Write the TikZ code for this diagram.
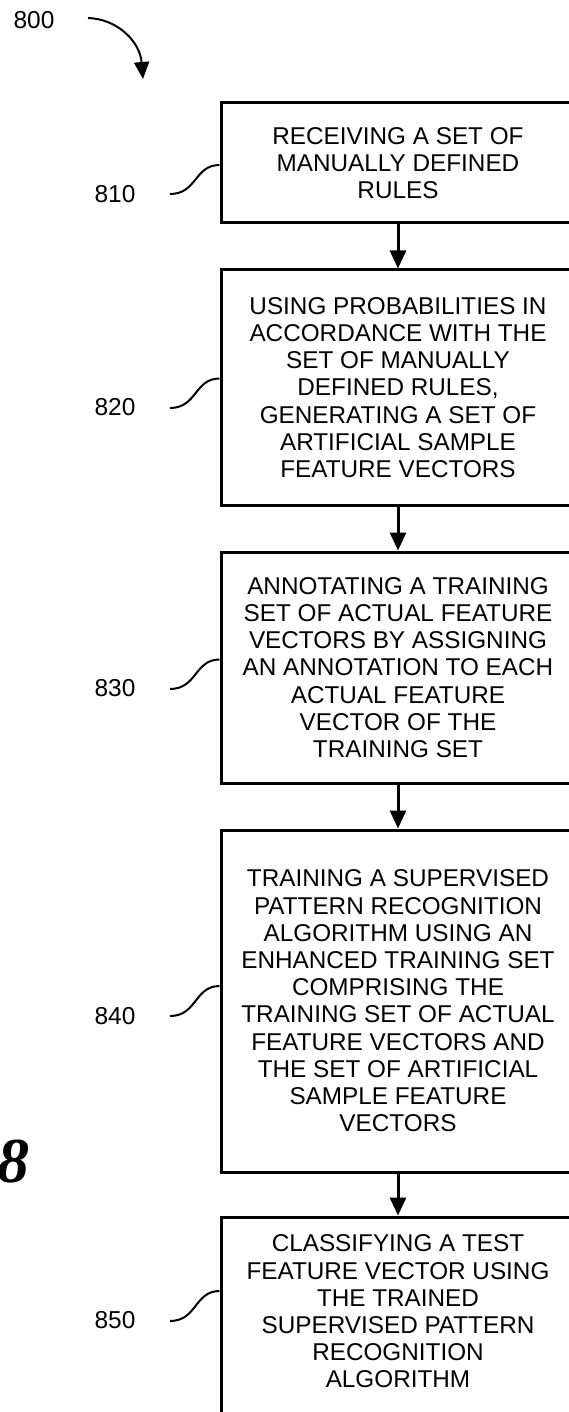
\documentclass[tikz,border=0pt]{standalone}
\usepackage{fontspec}
\setmainfont{Liberation Sans}
\newfontfamily\figfont{Liberation Serif}
\usetikzlibrary{arrows.meta}
\begin{document}
\begin{tikzpicture}[x=1pt,y=-1pt,
  stepbox/.style={draw, line width=3pt, minimum width=354pt, inner sep=0pt, align=center,
    font=\fontsize{24.3}{27.2}\selectfont},
  steptext/.style={inner sep=0pt, align=center, font=\fontsize{24.3}{27.2}\selectfont},
  flow/.style={line width=3pt, -{Triangle[length=18pt,width=16pt]}},
  lead/.style={line width=2pt},
  num/.style={font=\fontsize{24.5}{26}\selectfont, inner sep=0pt}]
\useasboundingbox (0,0) rectangle (568,1412);

% title label and arrow
\node[num] (l800) at (34,20) {800};
\coordinate (a800s) at (88,18);
\coordinate (a800e) at (143,79);
\draw[line width=2pt, -{Triangle[length=17pt,width=15pt]}] (a800s) .. controls (118,19) and (140,42) .. (a800e);

% boxes
\node[stepbox, minimum height=120pt] (b810) at (398,163) {RECEIVING A SET OF\\MANUALLY DEFINED\\RULES};
\node[stepbox, minimum height=235pt] (b820) at (398,387.5) {USING PROBABILITIES IN\\ACCORDANCE WITH THE\\SET OF MANUALLY\\DEFINED RULES,\\GENERATING A SET OF\\ARTIFICIAL SAMPLE\\FEATURE VECTORS};
\node[stepbox, minimum height=231pt] (b830) at (398,667.5) {ANNOTATING A TRAINING\\SET OF ACTUAL FEATURE\\VECTORS BY ASSIGNING\\AN ANNOTATION TO EACH\\ACTUAL FEATURE\\VECTOR OF THE\\TRAINING SET};
\node[stepbox, minimum height=342pt] (b840) at (398,1001) {TRAINING A SUPERVISED\\PATTERN RECOGNITION\\ALGORITHM USING AN\\ENHANCED TRAINING SET\\COMPRISING THE\\TRAINING SET OF ACTUAL\\FEATURE VECTORS AND\\THE SET OF ARTIFICIAL\\SAMPLE FEATURE\\VECTORS};
\node[stepbox, minimum height=240pt] (b850) at (398,1337) {};
\node[steptext] (t850) at (398,1311.5) {CLASSIFYING A TEST\\FEATURE VECTOR USING\\THE TRAINED\\SUPERVISED PATTERN\\RECOGNITION\\ALGORITHM};

% flow arrows
\draw[flow] (b810.south) -- (b820.north);
\draw[flow] (b820.south) -- (b830.north);
\draw[flow] (b830.south) -- (b840.north);
\draw[flow] (b840.south) -- (b850.north);

% reference labels and leaders
\node[num] (l810) at (115,194) {810};
\node[num] (l820) at (115,407) {820};
\node[num] (l830) at (115,688) {830};
\node[num] (l840) at (115,1016) {840};
\node[num] (l850) at (115,1320) {850};
\coordinate (s810) at (170,194);
\coordinate (s820) at (170,408);
\coordinate (s830) at (170,689);
\coordinate (s840) at (170,1016);
\coordinate (s850) at (170,1321);
\draw[lead] (s810) .. controls +(27,0) and +(-25,0) .. ([yshift=-2pt]b810.west);
\draw[lead] (s820) .. controls +(27,0) and +(-25,0) .. ([yshift=9pt]b820.west);
\draw[lead] (s830) .. controls +(27,0) and +(-25,0) .. ([yshift=8pt]b830.west);
\draw[lead] (s840) .. controls +(27,0) and +(-25,0) .. ([yshift=15pt]b840.west);
\draw[lead] (s850) .. controls +(27,0) and +(-25,0) .. ([yshift=46pt]b850.west);

% figure number (partly cut off)
\node[font=\figfont\bfseries\itshape\fontsize{64}{64}\selectfont, inner sep=0pt, anchor=base west] (fig) at (-3,1182) {8};
\end{tikzpicture}
\end{document}
